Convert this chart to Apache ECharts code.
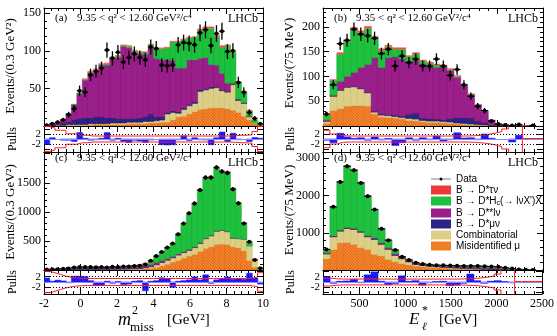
<!DOCTYPE html>
<html>
<head>
<meta charset="utf-8">
<script src="https://cdn.jsdelivr.net/npm/echarts@6/dist/echarts.min.js"></script>
<style>
html, body { margin: 0; padding: 0; background: #fff; }
#main { width: 557px; height: 336px; }
</style>
</head>
<body>
<div id="main"></div>
<script>
// binning: m2miss in GeV^2, E_l* in MeV
var mLo = -2, mW = 0.3;
var eLo = 100, eW = 75;

// (a) m2miss, 9.35 < q2 < 12.60
var dataA  = [1,3,5,8,15,23,47,45,68,73, 77,101,90,98,85,91,96,91,88,105, 103,81,80,81,108,111,110,108,124,128, 107,123,126,99,100,58,45,18,10,3];
var misidA = [0,0,0,1,1,1,1,1,1,2, 2,2,2,2,2,3,3,3,3,4, 4,5,5,8,12,13,16,19,22,23, 24,24,24,23,21,18,13,8,3,1];
var combA  = [0,0,1,0,1,1,1,1,2,1, 1,1,2,2,2,2,2,2,3,2, 3,3,11,10,5,9,11,11,24,25, 26,27,23,22,34,16,17,4,1,0];
var dmuA   = [0,1,1,3,4,6,8,9,8,9, 9,8,7,6,6,5,5,6,7,10, 5,4,2,2,2,2,2,2,2,2, 2,2,1,1,1,1,1,0,0,0];
var dssA   = [1,2,3,5,10,20,33,50,60,62, 69,70,78,81,96,94,88,85,82,88, 78,76,70,67,58,53,59,56,42,41, 30,28,22,11,1,1,0,1,0,0];
var hcA    = [0,0,0,0,1,1,1,1,1,1, 1,2,2,2,1,2,2,2,3,4, 13,15,16,25,35,38,29,30,37,39, 48,38,35,50,41,22,14,7,4,1];
var tauA   = [0,0,0,0,0,0,0,1,1,1, 1,1,1,1,1,1,1,1,1,1, 1,1,1,1,1,1,1,1,2,2, 2,2,2,1,1,1,1,1,0,0];
var pullA  = [-2.2,0.5,0,-0.5,-0.5,-1,2.6,0.3,-0.5,-0.3, 0.3,2.6,-0.5,0.3,-1,-1.4,-0.5,-0.8,-1.4,-0.4, 0,-2.3,-2.4,-2.3,-0.3,1.3,-0.6,0.5,-0.3,-0.4, -2.3,0.5,2.8,-1,2.3,-0.3,0,-1,0.6,0.3];
var envA   = [5,4.4,3.5,3.5,2.1,2.1,1.5,1.5,1.2,1.2, 1.2,1.2,1.2,1.2,1.2,1.2,1.2,1.2,1.2,1.2, 1.2,1.2,1.2,1.2,1.2,1.2,1.2,1.2,1.2,1.2, 1.2,1.2,1.2,1.2,1.3,1.5,1.5,1.7,3,5];

// (b) E_l*, 9.35 < q2 < 12.60
var dataB  = [24,83,166,173,195,185,182,177,146,155, 121,141,128,135,121,121,135,121,102,114, 83,60,40,31,10,4,2,1,3,0, 1,0];
var misidB = [5,31,35,40,41,41,40,24,18,17, 16,14,11,10,8,7,7,6,5,4, 3,2,2,1,1,0,0,0,0,0, 0,0];
var combB  = [4,29,37,38,38,34,27,4,4,4, 3,3,4,4,3,3,3,3,3,2, 2,2,1,1,0,0,0,0,0,0, 0,0];
var dmuB   = [0,1,1,1,1,1,1,2,2,2, 3,3,9,12,5,5,4,4,7,11, 12,12,7,4,2,1,0,0,0,0, 0,0];
var dssB   = [3,1,17,21,28,42,56,108,94,115, 118,115,106,107,109,105,104,106,97,81, 65,47,32,24,9,3,2,1,1,1, 0,0];
var hcB    = [10,30,55,70,87,70,73,40,35,22, 15,20,10,12,6,7,5,2,2,2, 1,1,1,0,0,0,0,0,0,0, 0,0];
var tauB   = [1,2,3,3,4,4,4,3,3,3, 3,3,2,3,2,2,2,2,2,2, 1,1,1,1,0,0,0,0,0,0, 0,0];
var pullB  = [-0.5,-1.5,2.3,0.8,0.3,0.5,-0.5,0.8,-0.4,0.2, -2.6,-1.5,0.5,-0.5,0.5,-0.3,1.2,-0.8,-0.3,2.5, 0.4,0.5,-0.3,2,0.3,0,0,-1.2,1.5,0, 0,0];
var envB   = [3.5,2,1.3,1.2,1.2,1.2,1.2,1.2,1.2,1.2, 1.2,1.2,1.2,1.2,1.2,1.2,1.2,1.2,1.2,1.2, 1.2,1.3,1.5,1.8,2.3,3,4,9,9,0.2, 0.2,0.2];

// (c) m2miss, full fit view
var dataC  = [10,12,15,20,25,45,50,52,50,48, 50,45,55,50,60,62,70,72,95,160, 240,310,385,455,615,800,975,1145,1375,1590, 1590,1765,1695,1670,1390,1150,800,485,170,30];
var misidC = [0,0,1,1,2,2,2,3,3,3, 4,4,5,6,7,8,10,13,18,28, 45,70,100,135,165,205,240,270,320,370, 400,440,445,440,400,380,330,160,45,5];
var combC  = [1,1,1,2,2,3,4,4,4,5, 5,6,6,6,7,8,10,12,17,27, 45,60,70,75,95,95,100,115,140,170, 190,230,235,220,150,160,200,250,135,15];
var dmuC   = [2,3,4,6,10,23,26,27,26,25, 23,21,19,18,16,15,12,11,10,7, 7,6,5,4,3,2,2,2,2,1, 1,1,1,1,1,1,0,0,0,0];
var dssC   = [3,4,4,5,6,6,6,7,7,7, 8,9,11,12,15,17,23,26,30,33, 33,29,25,21,17,16,13,11,8,7, 5,4,3,2,1,1,1,0,0,0];
var hcC    = [4,4,5,6,7,6,7,7,8,8, 10,10,11,13,15,18,23,30,40,65, 105,140,180,220,330,472,605,742,910,1032, 1004,1085,1006,1017,848,608,279,70,5,8];
var tauC   = [1,1,1,1,1,1,1,1,1,1, 1,1,1,1,1,1,1,1,2,2, 3,4,5,5,5,6,8,8,10,12, 12,15,15,14,10,8,6,4,2,1];
var pullC  = [1.5,0.3,0.7,0.4,-0.3,2.2,2.2,2.0,0.5,-1.4, -1.2,0.3,-0.5,0.2,-1.0,-0.8,0.3,0.5,-3.3,0.3, 0.5,1.6,1.2,-2.0,0.3,0.5,0.8,1.9,0.8,2.7, -0.5,0.8,1.2,1.9,1.0,1.2,1.0,3.3,1.5,-0.8];
var envC   = [4,3.5,2.8,2.2,1.8,1.5,1.4,1.3,1.3,1.3, 1.3,1.3,1.3,1.3,1.3,1.3,1.3,1.3,1.3,1.3, 1.3,1.3,1.3,1.3,1.3,1.3,1.3,1.3,1.3,1.3, 1.3,1.3,1.3,1.3,1.3,1.3,1.3,1.4,1.8,3.5];

// (d) E_l*, full fit view
var dataD  = [552,1697,2367,2786,2679,2339,1982,1625,1106,802, 535,357,268,196,160,140,130,125,120,115, 110,110,108,100,95,85,60,40,15,5, 2,0];
var misidD = [300,550,730,735,690,600,550,420,375,285, 220,170,135,105,85,70,60,50,40,32, 25,20,15,10,6,3,1,0,0,0, 0,0];
var combD  = [130,340,315,380,400,415,340,400,315,270, 170,130,80,45,35,30,25,22,20,18, 15,12,10,8,6,4,2,1,0,0, 0,0];
var dmuD   = [10,10,10,10,10,10,10,12,15,17, 20,18,15,15,13,12,12,13,14,15, 15,15,15,15,15,13,9,5,2,0, 0,0];
var dssD   = [20,20,20,20,20,20,25,28,30,33, 35,27,25,20,17,16,18,21,24,27, 30,31,32,32,30,25,18,9,3,1, 0,0];
var hcD    = [88,770,1285,1645,1560,1295,1060,760,375,195, 95,17,17,15,10,12,15,18,20,21, 23,26,28,30,31,30,25,15,5,2, 1,0];
var tauD   = [7,10,15,15,15,12,10,10,8,6, 4,3,3,2,2,1,1,1,1,1, 1,1,1,1,1,1,1,1,0,0, 0,0];
var pullD  = [2.0,-0.5,0.3,0.4,1.0,-0.3,2.7,3.8,0.3,-1.0, -0.6,2.3,0.3,0.5,-1.2,-0.3,0.2,0.3,-1.4,-1.2, -0.5,3.0,0.5,-0.5,0.3,0.5,0.2,-0.3,0,0, 0,0];
var envD   = [1.5,1.2,1.1,1.1,1.1,1.1,1.1,1.1,1.1,1.1, 1.1,1.1,1.1,1.1,1.1,1.1,1.1,1.1,1.1,1.1, 1.2,1.3,1.5,1.8,2.2,3,5,9,0.2,0.2, 0.2,0.2];

var compNames = ['Misidentified μ', 'Combinatorial', 'B → D*μν', 'B → D**lν', "B → D*Hc(→ lνX')X", 'B → D*τν'];
var compColors = ['#f07f24', '#dccf85', '#2c2384', '#9b1f8b', '#1dc13d', '#ec3a3a'];
var compEdges = ['#e06a18', '#cdbd6e', '#221a6e', '#861476', '#14a831', '#ff7a7a'];

var serif = 'Liberation Serif';

// orange hatch for the mis-ID component
var hatch = document.createElement('canvas');
hatch.width = 3; hatch.height = 3;
var hc = hatch.getContext('2d');
hc.fillStyle = '#f3862c'; hc.fillRect(0, 0, 3, 3);
hc.fillStyle = '#e5691c'; hc.fillRect(0, 0, 1, 1); hc.fillRect(1, 1, 1, 1); hc.fillRect(2, 2, 1, 1);
var hatchFill = {image: hatch, repeat: 'repeat'};

function ticks(a, b, s) {
    var out = [];
    for (var v = a; v <= b + 1e-9; v += s) out.push(Math.round(v * 1000) / 1000);
    return out;
}
function plain(v) { return String(v); }

var grids = [], xAxes = [], yAxes = [], series = [];

// one grid with the frame and major ticks, a twin grid on top of it for minor ticks
function addFrame(box, xr, yr, t) {
    var g = grids.length;
    var xi = xAxes.length, yi = yAxes.length;
    [0, 1].forEach(function (k) {
        var major = k === 0;
        var yLab = major ? t.yLab : t.yLab2;
        grids.push({left: box[0], top: box[1], width: box[2], height: box[3]});
        ['bottom', 'top'].forEach(function (pos) {
            xAxes.push({
                gridIndex: g + k, type: 'value', position: pos, min: xr[0], max: xr[1],
                axisLine: {show: major, onZero: false, lineStyle: {color: '#000', width: 1}},
                axisTick: {show: true, inside: true, length: major ? 6 : 3,
                    customValues: major ? t.xMajor : t.xMinor, lineStyle: {color: '#000', width: 1}},
                axisLabel: {show: major && pos === 'bottom' && !!t.xLabels, customValues: t.xMajor,
                    formatter: plain, showMinLabel: true, showMaxLabel: true, hideOverlap: false,
                    fontFamily: serif, fontSize: 12, color: '#000', margin: 4},
                splitLine: {show: false}
            });
        });
        ['left', 'right'].forEach(function (pos) {
            yAxes.push({
                gridIndex: g + k, type: 'value', position: pos, min: yr[0], max: yr[1],
                axisLine: {show: major, onZero: false, lineStyle: {color: '#000', width: 1}},
                axisTick: {show: true, inside: true, length: major ? 6 : 3,
                    customValues: major ? t.yMajor : t.yMinor, lineStyle: {color: '#000', width: 1}},
                axisLabel: {show: pos === 'left' && !!yLab, customValues: yLab || [],
                    formatter: plain, showMinLabel: true, showMaxLabel: true, hideOverlap: false,
                    fontFamily: serif, fontSize: t.yFont || 12, color: '#000', margin: 3},
                splitLine: {show: false}
            });
        });
    });
    return {x: xi, y: yi};
}

function rectItem(fill, stroke) {
    return function (params, api) {
        var a = api.coord([api.value(0), api.value(3)]);
        var b = api.coord([api.value(1), api.value(2)]);
        var h = Math.abs(b[1] - a[1]);
        if (h < 0.05) return null;
        return {
            type: 'rect',
            shape: {x: Math.min(a[0], b[0]), y: Math.min(a[1], b[1]), width: Math.abs(b[0] - a[0]) + 0.3, height: h},
            style: {fill: fill, stroke: stroke, lineWidth: 0.5}
        };
    };
}

function dataItem(params, api) {
    var x = api.value(0), hw = api.value(1), n = api.value(2);
    if (!(n > 0)) return null;
    var e = Math.sqrt(n);
    var c = api.coord([x, n]);
    var t = api.coord([x, n + e]), b = api.coord([x, Math.max(n - e, 0)]);
    var l = api.coord([x - hw, n]), r = api.coord([x + hw, n]);
    var ls = {stroke: '#000', lineWidth: 1.3};
    return {type: 'group', children: [
        {type: 'line', shape: {x1: c[0], y1: t[1], x2: c[0], y2: b[1]}, style: ls},
        {type: 'line', shape: {x1: l[0], y1: c[1], x2: r[0], y2: c[1]}, style: ls},
        {type: 'circle', shape: {cx: c[0], cy: c[1], r: 2}, style: {fill: '#000'}}
    ]};
}

function addPanel(p) {
    var x0 = p.lo, w = p.w, n = p.data.length;
    // main stacked histogram
    var ax = addFrame(p.main, p.xr, [0, p.yMax], {
        xMajor: p.xMajor, xMinor: p.xMinor, yMajor: p.yMajor, yMinor: p.yMinor, yLab: p.yLab
    });
    var base = [];
    for (var i = 0; i < n; i++) base.push(0);
    p.comps.forEach(function (arr, k) {
        var rows = [];
        for (var i = 0; i < n; i++) {
            rows.push([x0 + i * w, x0 + (i + 1) * w, base[i], base[i] + arr[i]]);
            base[i] += arr[i];
        }
        series.push({
            type: 'custom', name: compNames[k], xAxisIndex: ax.x, yAxisIndex: ax.y, clip: true,
            itemStyle: {color: compColors[k]},
            encode: {x: [0, 1], y: [2, 3]},
            renderItem: rectItem(k === 0 ? hatchFill : compColors[k], compEdges[k]),
            data: rows
        });
    });
    var pts = [];
    for (var j = 0; j < n; j++) pts.push([x0 + (j + 0.5) * w, w / 2, p.data[j]]);
    series.push({
        type: 'custom', name: 'Data', xAxisIndex: ax.x, yAxisIndex: ax.y, clip: true, z: 5,
        itemStyle: {color: '#000'}, encode: {x: 0, y: 2}, renderItem: dataItem, data: pts
    });

    // pulls
    var px = addFrame(p.pulls, p.xr, [-p.pr, p.pr], {
        xMajor: p.xMajor, xMinor: p.xMinor, xLabels: p.xLabels,
        yMajor: [-4, -2, 0, 2, 4], yMinor: [], yLab: [-2], yLab2: [2], yFont: 11
    });
    var up = [], dn = [];
    for (var m = 0; m < n; m++) {
        up.push([x0 + m * w, p.env[m]]);
        dn.push([x0 + m * w, -p.env[m]]);
    }
    up.push([x0 + n * w, p.env[n - 1]]);
    dn.push([x0 + n * w, -p.env[n - 1]]);
    var dotted = {type: [1, 2], color: '#000', width: 1};
    series.push({
        type: 'line', step: 'end', xAxisIndex: px.x, yAxisIndex: px.y, showSymbol: false, clip: true,
        lineStyle: {color: '#ff1a1a', width: 1}, data: up,
        markLine: {silent: true, symbol: 'none', label: {show: false},
            data: [
                {yAxis: 2, lineStyle: dotted},
                {yAxis: -2, lineStyle: dotted},
                {yAxis: 0, lineStyle: {type: 'solid', color: '#8a8aff', width: 1}}
            ]}
    });
    series.push({
        type: 'line', step: 'end', xAxisIndex: px.x, yAxisIndex: px.y, showSymbol: false, clip: true,
        lineStyle: {color: '#ff1a1a', width: 1}, data: dn
    });
    var bars = [];
    for (var q = 0; q < n; q++) bars.push([x0 + q * w, x0 + (q + 1) * w, 0, p.pull[q]]);
    series.push({
        type: 'custom', xAxisIndex: px.x, yAxisIndex: px.y, clip: true,
        encode: {x: [0, 1], y: [2, 3]}, renderItem: rectItem('#1a1aff', '#1a1aff'), data: bars
    });
}

var mMajor = ticks(-2, 10, 2), mMinor = ticks(-2, 10, 0.4);
var eMajor = ticks(500, 2500, 500), eMinor = ticks(100, 2500, 100);

addPanel({lo: mLo, w: mW, xr: [-2, 10], xMajor: mMajor, xMinor: mMinor,
    main: [44, 8, 219, 118], pulls: [44, 126, 219, 26], yMax: 157, pr: 5.2,
    yMajor: ticks(0, 150, 50), yMinor: ticks(0, 150, 10), yLab: [50, 100, 150],
    comps: [misidA, combA, dmuA, dssA, hcA, tauA], data: dataA, pull: pullA, env: envA});
addPanel({lo: eLo, w: eW, xr: [100, 2500], xMajor: eMajor, xMinor: eMinor,
    main: [323, 8, 220, 118], pulls: [323, 126, 220, 26], yMax: 238, pr: 5.2,
    yMajor: ticks(0, 200, 50), yMinor: ticks(0, 230, 10), yLab: [50, 100, 150, 200],
    comps: [misidB, combB, dmuB, dssB, hcB, tauB], data: dataB, pull: pullB, env: envB});
addPanel({lo: mLo, w: mW, xr: [-2, 10], xMajor: mMajor, xMinor: mMinor, xLabels: true,
    main: [44, 152, 219, 118], pulls: [44, 270, 219, 24], yMax: 2030, pr: 4.5,
    yMajor: ticks(0, 2000, 500), yMinor: ticks(0, 2000, 100), yLab: [500, 1000, 1500],
    comps: [misidC, combC, dmuC, dssC, hcC, tauC], data: dataC, pull: pullC, env: envC});
addPanel({lo: eLo, w: eW, xr: [100, 2500], xMajor: eMajor, xMinor: eMinor, xLabels: true,
    main: [323, 152, 220, 118], pulls: [323, 270, 220, 24], yMax: 3170, pr: 4.5,
    yMajor: ticks(0, 3000, 1000), yMinor: ticks(0, 3000, 200), yLab: [1000, 2000, 3000],
    comps: [misidD, combD, dmuD, dssD, hcD, tauD], data: dataD, pull: pullD, env: envD});

function txt(x, y, s, size, opt) {
    opt = opt || {};
    return {
        type: 'text', x: x, y: y, rotation: opt.rot || 0, silent: true,
        style: {
            text: s, fill: '#000',
            font: (opt.italic ? 'italic ' : '') + size + 'px "' + (opt.family || serif) + '"',
            align: opt.align || 'left', verticalAlign: 'middle',
            textAlign: opt.align || 'left', textVerticalAlign: 'middle'
        }
    };
}

var qText = '9.35 < q² < 12.60 GeV²/c⁴';
var graphics = [
    txt(55, 18, '(a)', 11), txt(77, 18, qText, 11), txt(258, 19, 'LHCb', 12, {align: 'right'}),
    txt(334, 18, '(b)', 11), txt(356, 18, qText, 11), txt(538, 19, 'LHCb', 12, {align: 'right'}),
    txt(55, 158, '(c)', 11), txt(77, 158, qText, 11), txt(258, 163, 'LHCb', 12, {align: 'right'}),
    txt(334, 158, '(d)', 11), txt(356, 158, qText, 11), txt(538, 163, 'LHCb', 12, {align: 'right'}),
    txt(11, 66, 'Events/(0.3 GeV²)', 13, {align: 'center', rot: Math.PI / 2}),
    txt(11, 212, 'Events/(0.3 GeV²)', 13, {align: 'center', rot: Math.PI / 2}),
    txt(290, 63, 'Events/(75 MeV)', 13, {align: 'center', rot: Math.PI / 2}),
    txt(290, 210, 'Events/(75 MeV)', 13, {align: 'center', rot: Math.PI / 2}),
    txt(13, 139, 'Pulls', 12, {align: 'center', rot: Math.PI / 2}),
    txt(13, 282, 'Pulls', 12, {align: 'center', rot: Math.PI / 2}),
    txt(291, 139, 'Pulls', 12, {align: 'center', rot: Math.PI / 2}),
    txt(291, 282, 'Pulls', 12, {align: 'center', rot: Math.PI / 2}),
    txt(118, 320, 'm', 18, {italic: true}), txt(132, 311, '2', 12), txt(130, 328, 'miss', 13),
    txt(167, 320, '[GeV²]', 15),
    txt(409, 320, 'E', 17, {italic: true}), txt(422, 311, '*', 12), txt(422, 327, 'ℓ', 11, {italic: true}),
    txt(439, 320, '[GeV]', 15)
];

var chart = echarts.init(document.getElementById('main'));
chart.setOption({
    animation: false,
    backgroundColor: '#fff',
    grid: grids,
    xAxis: xAxes,
    yAxis: yAxes,
    legend: {
        left: 426, top: 169, orient: 'vertical', itemWidth: 20, itemHeight: 9, itemGap: 1,
        icon: 'rect', selectedMode: false,
        textStyle: {fontFamily: 'Liberation Sans', fontSize: 10, lineHeight: 10, color: '#000',
            rich: {
                n: {fontFamily: 'Liberation Sans', fontSize: 10, color: '#000'},
                s: {fontFamily: 'Liberation Sans', fontSize: 7, color: '#000', padding: [5, 0, 0, 0]}
            }},
        formatter: function (name) {
            if (name.indexOf('Hc') >= 0) return '{n|B → D*H}{s|c}{n|(→ lνX\')X}';
            return name;
        },
        data: [
            {name: 'Data', icon: 'path://M0,0 L0.2,0 L0.2,0.2 Z M39.8,17.8 L40,17.8 L40,18 Z M0,8.6 L40,8.6 L40,9.4 L0,9.4 Z M23,9 A3,3 0 1 1 17,9 A3,3 0 1 1 23,9 Z'},
            'B → D*τν', "B → D*Hc(→ lνX')X", 'B → D**lν', 'B → D*μν', 'Combinatorial', 'Misidentified μ'
        ]
    },
    graphic: graphics,
    series: series
});
</script>
</body>
</html>
